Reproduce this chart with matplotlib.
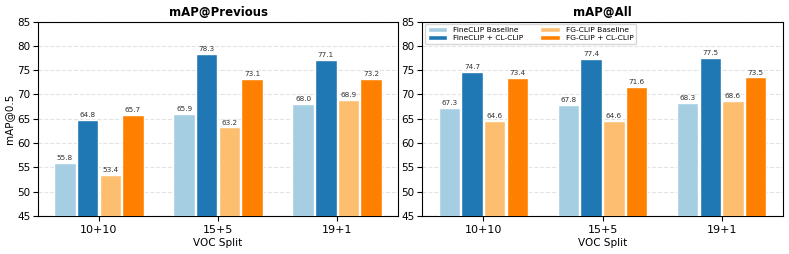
import numpy as np
import matplotlib
matplotlib.use("Agg")
import matplotlib.pyplot as plt

splits = ["10+10", "15+5", "19+1"]
series = ["FineCLIP Baseline", "FineCLIP + CL-CLIP", "FG-CLIP Baseline", "FG-CLIP + CL-CLIP"]
colors = ["#a6cee3", "#1f78b4", "#fdbf6f", "#ff7f00"]

# mAP@Previous
prev_fineclip_base = [55.8, 65.9, 68.0]
prev_fineclip_cl = [64.8, 78.3, 77.1]
prev_fgclip_base = [53.4, 63.2, 68.9]
prev_fgclip_cl = [65.7, 73.1, 73.2]

# mAP@All
all_fineclip_base = [67.3, 67.8, 68.3]
all_fineclip_cl = [74.7, 77.4, 77.5]
all_fgclip_base = [64.6, 64.6, 68.6]
all_fgclip_cl = [73.4, 71.6, 73.5]

panels = [
    ("mAP@Previous", [prev_fineclip_base, prev_fineclip_cl, prev_fgclip_base, prev_fgclip_cl]),
    ("mAP@All", [all_fineclip_base, all_fineclip_cl, all_fgclip_base, all_fgclip_cl]),
]

fig, axes = plt.subplots(1, 2, figsize=(7.89, 2.54), dpi=100)
fig.subplots_adjust(left=0.048, right=0.992, top=0.915, bottom=0.15, wspace=0.067)

x = np.arange(len(splits))
step = 0.19
width = 0.18

for ax, (title, data) in zip(axes, panels):
    for i, vals in enumerate(data):
        pos = x + (i - 1.5) * step
        bars = ax.bar(pos, vals, width, color=colors[i], edgecolor="white",
                      linewidth=1, label=series[i], zorder=3)
        for b, v in zip(bars, vals):
            ax.text(b.get_x() + b.get_width() / 2, v + 0.4, f"{v:.1f}",
                    ha="center", va="bottom", fontsize=5.2, color="#333333", zorder=2)
    ax.set_ylim(45, 85)
    ax.set_yticks(range(45, 86, 5))
    ax.set_xticks(x)
    ax.set_xticklabels(splits, fontsize=8)
    ax.tick_params(axis="y", labelsize=7.5, pad=2)
    ax.tick_params(axis="x", pad=3)
    ax.set_xlabel("VOC Split", fontsize=7.5, labelpad=2)
    ax.set_title(title, fontsize=8.5, fontweight="bold", pad=4)
    ax.grid(axis="y", linestyle="--", alpha=0.35, zorder=0)

axes[0].set_ylabel("mAP@0.5", fontsize=7.5, labelpad=2)
leg = axes[1].legend(ncol=2, fontsize=5.4, loc="upper left", frameon=True,
                     handlelength=2.6, handleheight=0.6, columnspacing=2.2,
                     borderaxespad=0.35, labelspacing=0.2, borderpad=0.4)
leg.set_zorder(5)

fig.savefig("out.png", dpi=100)
